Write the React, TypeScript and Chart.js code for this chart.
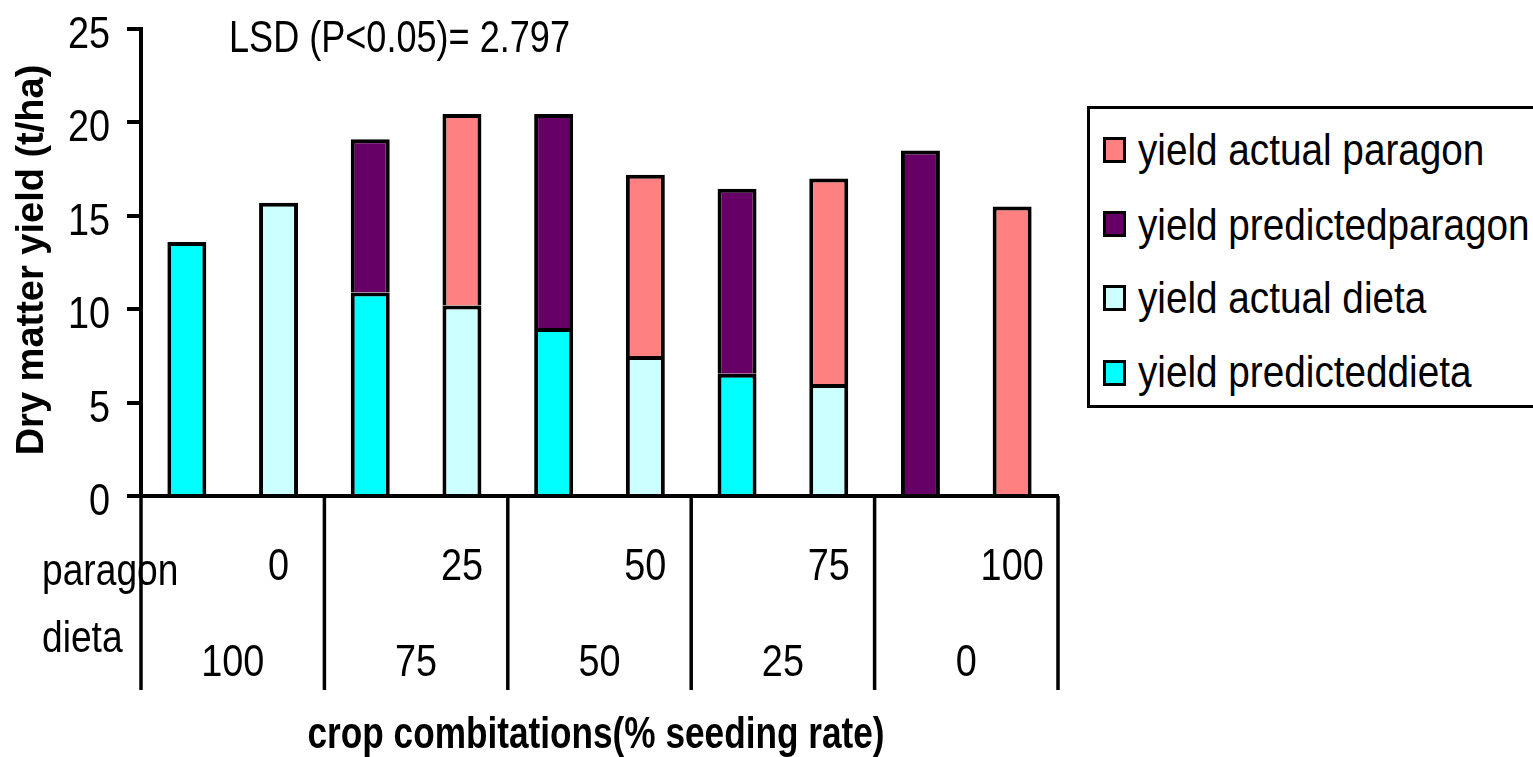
import React, { useEffect, useRef } from "react";
import { Chart, registerables } from "chart.js";

Chart.register(...registerables);

// ---- data ----
const categories = [
  "P0/D100 predicted", "P0/D100 actual",
  "P25/D75 predicted", "P25/D75 actual",
  "P50/D50 predicted", "P50/D50 actual",
  "P75/D25 predicted", "P75/D25 actual",
  "P100/D0 predicted", "P100/D0 actual",
];
const predictedDieta = [13.6, null, 10.9, null, 9.0, null, 6.55, null, null, null];
const actualDieta = [null, 15.7, null, 10.2, null, 7.5, null, 6.0, null, null];
const predictedParagon = [null, null, 8.2, null, 11.45, null, 9.9, null, 18.5, null];
const actualParagon = [null, null, null, 10.25, null, 9.7, null, 11.0, null, 15.5];
const paragonRates = ["0", "25", "50", "75", "100"];
const dietaRates = ["100", "75", "50", "25", "0"];
const yMin = 0;
const yMax = 25;
const yStep = 5;
const seriesNames = ["yield predicteddieta", "yield actual dieta", "yield predictedparagon", "yield actual paragon"];
const seriesColors = ["#00FFFF", "#CCFFFF", "#660066", "#FF8080"];
const rowLabels = ["paragon", "dieta"];
const lsdText = "LSD (P<0.05)= 2.797";
const yTitle = "Dry matter yield (t/ha)";
const xTitle = "crop combitations(% seeding rate)";

const FONT = '"Liberation Sans", Arial, sans-serif';

function drawText(ctx: CanvasRenderingContext2D, text: string, x: number, y: number, align: CanvasTextAlign, sx: number) {
  ctx.save();
  ctx.translate(x, y);
  ctx.scale(sx, 1);
  ctx.textAlign = align;
  ctx.fillText(text, 0, 0);
  ctx.restore();
}

const tablePlugin = {
  id: "tablePlugin",
  afterDraw(chart: any) {
    const { ctx, scales } = chart;
    const x = scales.x;
    const y = scales.y;
    const base = y.getPixelForValue(0);
    const half = (x.getPixelForValue(1) - x.getPixelForValue(0)) / 2;
    ctx.save();
    ctx.strokeStyle = "#000";
    ctx.lineWidth = 3.5;
    for (let g = 0; g <= paragonRates.length; g++) {
      const px = g < paragonRates.length ? x.getPixelForValue(2 * g) - half : x.getPixelForValue(2 * g - 1) + half;
      ctx.beginPath();
      ctx.moveTo(px, base);
      ctx.lineTo(px, 690);
      ctx.stroke();
    }
    ctx.fillStyle = "#000";
    ctx.textBaseline = "alphabetic";
    ctx.font = `44px ${FONT}`;
    // y tick labels
    y.ticks.forEach((t: any) => {
      drawText(ctx, String(t.value), 110, y.getPixelForValue(t.value) + 19, "right", 0.86);
    });
    drawText(ctx, rowLabels[0], 42, 585, "left", 0.845);
    drawText(ctx, rowLabels[1], 42, 652, "left", 0.845);
    drawText(ctx, lsdText, 229, 52, "left", 0.82);
    paragonRates.forEach((t, g) => {
      drawText(ctx, t, x.getPixelForValue(2 * g + 1), 580, "center", 0.86);
    });
    dietaRates.forEach((t, g) => {
      const cx = (x.getPixelForValue(2 * g) + x.getPixelForValue(2 * g + 1)) / 2;
      drawText(ctx, t, cx, 676, "center", 0.86);
    });
    ctx.font = `bold 44px ${FONT}`;
    drawText(ctx, xTitle, 596, 748, "center", 0.8);
    ctx.translate(43, 260);
    ctx.rotate(-Math.PI / 2);
    ctx.font = `bold 38px ${FONT}`;
    ctx.textAlign = "center";
    ctx.fillText(yTitle, 0, 0);
    ctx.restore();
  },
};

export default function App() {
  const ref = useRef<HTMLCanvasElement | null>(null);
  useEffect(() => {
    if (!ref.current) return;
    const data = [predictedDieta, actualDieta, predictedParagon, actualParagon];
    const chart = new Chart(ref.current, {
      type: "bar",
      data: {
        labels: categories,
        datasets: data.map((d, i) => ({
          label: seriesNames[i],
          data: d as any,
          backgroundColor: seriesColors[i],
          borderColor: "#000",
          borderWidth: 4,
          barPercentage: 0.425,
          categoryPercentage: 1,
        })),
      },
      options: {
        responsive: false,
        animation: false,
        devicePixelRatio: 1,
        layout: { padding: { left: 0, right: 1533 - 1058, top: 29, bottom: 0 } },
        plugins: { legend: { display: false }, tooltip: { enabled: false } },
        scales: {
          x: {
            stacked: true,
            grid: { display: false },
            border: { display: true, color: "#000", width: 4 },
            ticks: { display: false },
            afterFit: (s: any) => { s.height = 757 - 496; },
          },
          y: {
            stacked: true,
            min: yMin,
            max: yMax,
            ticks: { stepSize: yStep, display: false },
            grid: { drawOnChartArea: false, drawTicks: true, tickLength: 14, lineWidth: 4, color: "#000" },
            border: { display: true, color: "#000", width: 4 },
            afterFit: (s: any) => { s.width = 141; },
          },
        },
      },
      plugins: [tablePlugin],
    });
    return () => chart.destroy();
  }, []);

  const legendItems = [3, 2, 1, 0];
  const squareTops = [137, 211, 285, 360];
  const baselines = [165, 240, 313, 387];
  return (
    <div style={{ position: "fixed", left: 0, top: 0, width: 1533, height: 757, overflow: "hidden", background: "#fff" }}>
      <canvas ref={ref} width={1533} height={757} style={{ position: "absolute", left: 0, top: 0 }} />
      <div style={{ position: "absolute", left: 1087, top: 106, width: 520, height: 302, border: "3px solid #000", boxSizing: "border-box", background: "#fff" }} />
      {legendItems.map((si, k) => (
        <React.Fragment key={si}>
          <div style={{ position: "absolute", left: 1103, top: squareTops[k], width: 23, height: 26, border: "3px solid #000", boxSizing: "border-box", background: seriesColors[si] }} />
          <div style={{ position: "absolute", left: 1138, top: baselines[k] - 38, font: `45px/45px ${FONT}`, color: "#000", whiteSpace: "nowrap", transform: "scaleX(0.86)", transformOrigin: "left center" }}>{seriesNames[si]}</div>
        </React.Fragment>
      ))}
    </div>
  );
}
